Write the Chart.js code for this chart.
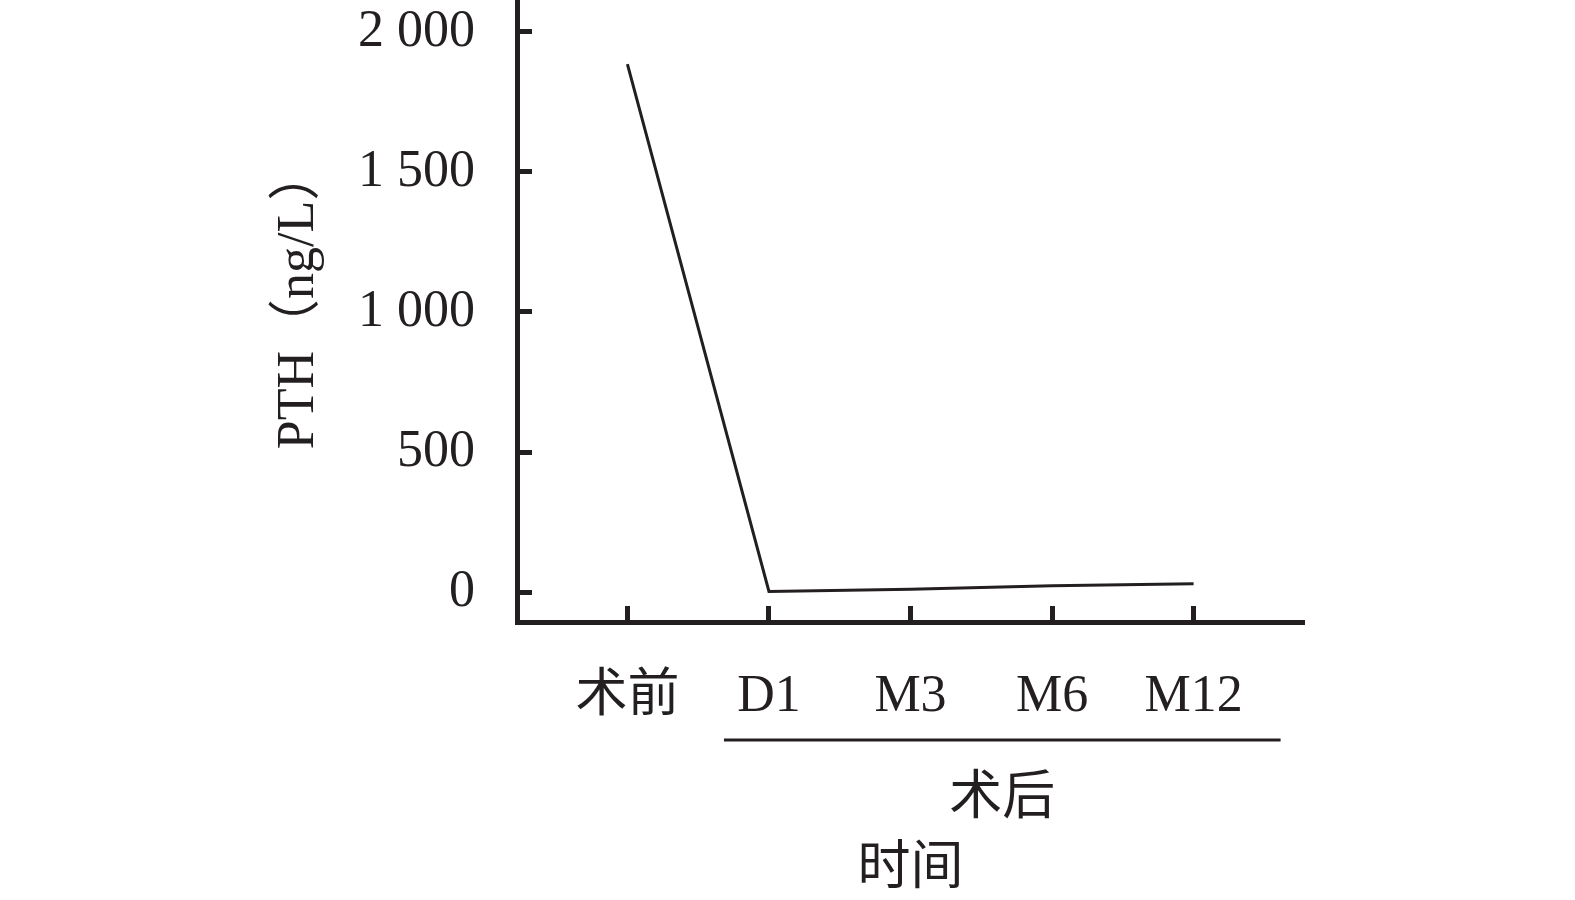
<!DOCTYPE html>
<html>
<head>
<meta charset="utf-8">
<script src="https://cdn.jsdelivr.net/npm/chart.js@4.4.1/dist/chart.umd.min.js"></script>
<style>
  html, body { margin: 0; padding: 0; background: #fff; }
  #wrap { width: 1575px; height: 900px; }
</style>
</head>
<body>
<div id="wrap"><canvas id="pthChart" width="1575" height="900"></canvas></div>
<script>
// data
const timePoints = ['术前', 'D1', 'M3', 'M6', 'M12'];
const pthValues = [1885, 2, 10, 22, 30];
const yTicks = [0, 500, 1000, 1500, 2000];
const postOpLabel = '术后';
const xTitle = '时间';
const yTitle = 'PTH（ng/L）';

const ink = '#231f20';
const fontFamily = '"Liberation Serif", "Noto Sans CJK SC", serif';
Chart.defaults.color = ink;

// thousands with a space, like "2 000"
const fmt = v => String(v).replace(/\B(?=(\d{3})+(?!\d))/g, ' ');

// bracket under the post-op time points + the y axis title
const extras = {
    id: 'extras',
    afterDraw(chart) {
        const x = chart.scales.x;
        const area = chart.chartArea;
        const left = x.getPixelForValue(1) - 45;
        const right = x.getPixelForValue(4) + 87;
        const ctx = chart.ctx;
        ctx.save();
        ctx.strokeStyle = ink;
        ctx.lineWidth = 3;
        ctx.beginPath();
        ctx.moveTo(left, 740);
        ctx.lineTo(right, 740);
        ctx.stroke();
        ctx.fillStyle = ink;
        ctx.font = '53px "Noto Sans CJK SC", sans-serif';
        ctx.textAlign = 'center';
        ctx.textBaseline = 'middle';
        ctx.fillText(postOpLabel, (left + right) / 2, 794);

        // rotated y title (the full-width closing bracket leaves blank space at the end)
        ctx.translate(299, (area.top + area.bottom) / 2 - 12);
        ctx.rotate(-Math.PI / 2);
        ctx.font = '52px ' + fontFamily;
        ctx.fillText(yTitle, 0, 0);
        ctx.restore();
    }
};

new Chart(document.getElementById('pthChart'), {
    type: 'line',
    data: {
        datasets: [{
            data: pthValues.map((v, i) => ({ x: i, y: v })),
            borderColor: ink,
            borderWidth: 3,
            pointRadius: 0,
            tension: 0,
            fill: false
        }]
    },
    options: {
        responsive: false,
        animation: false,
        devicePixelRatio: 1,
        layout: { padding: { left: 0, right: 271, top: 0, bottom: 0 } },
        plugins: { legend: { display: false }, tooltip: { enabled: false } },
        scales: {
            x: {
                type: 'linear',
                min: -0.78,
                max: 4.78,
                afterBuildTicks: s => { s.ticks = timePoints.map((c, i) => ({ value: i })); },
                afterFit: s => { s.height = 278; s.paddingLeft = 0; s.paddingRight = 0; },
                border: { display: true, width: 5, color: ink },
                grid: { drawOnChartArea: false, drawTicks: true, tickLength: -16, tickWidth: 5, tickColor: ink },
                ticks: {
                    autoSkip: false,
                    maxRotation: 0,
                    padding: 60,
                    font: { family: fontFamily, size: 52 },
                    callback: v => timePoints[v]
                },
                title: {
                    display: true,
                    text: xTitle,
                    font: { family: '"Noto Sans CJK SC", sans-serif', size: 53 },
                    padding: { top: 0, bottom: 4 }
                }
            },
            y: {
                min: -107,
                max: 2114,
                afterBuildTicks: s => { s.ticks = yTicks.map(v => ({ value: v })); },
                afterFit: s => { s.width = 517; s.paddingTop = 0; s.paddingBottom = 0; },
                border: { display: true, width: 5, color: ink },
                grid: { drawOnChartArea: false, drawTicks: true, tickLength: -15, tickWidth: 5, tickColor: ink },
                ticks: {
                    padding: 57,
                    font: { family: fontFamily, size: 52 },
                    callback: v => fmt(v)
                }
            }
        }
    },
    plugins: [extras]
});
</script>
</body>
</html>
